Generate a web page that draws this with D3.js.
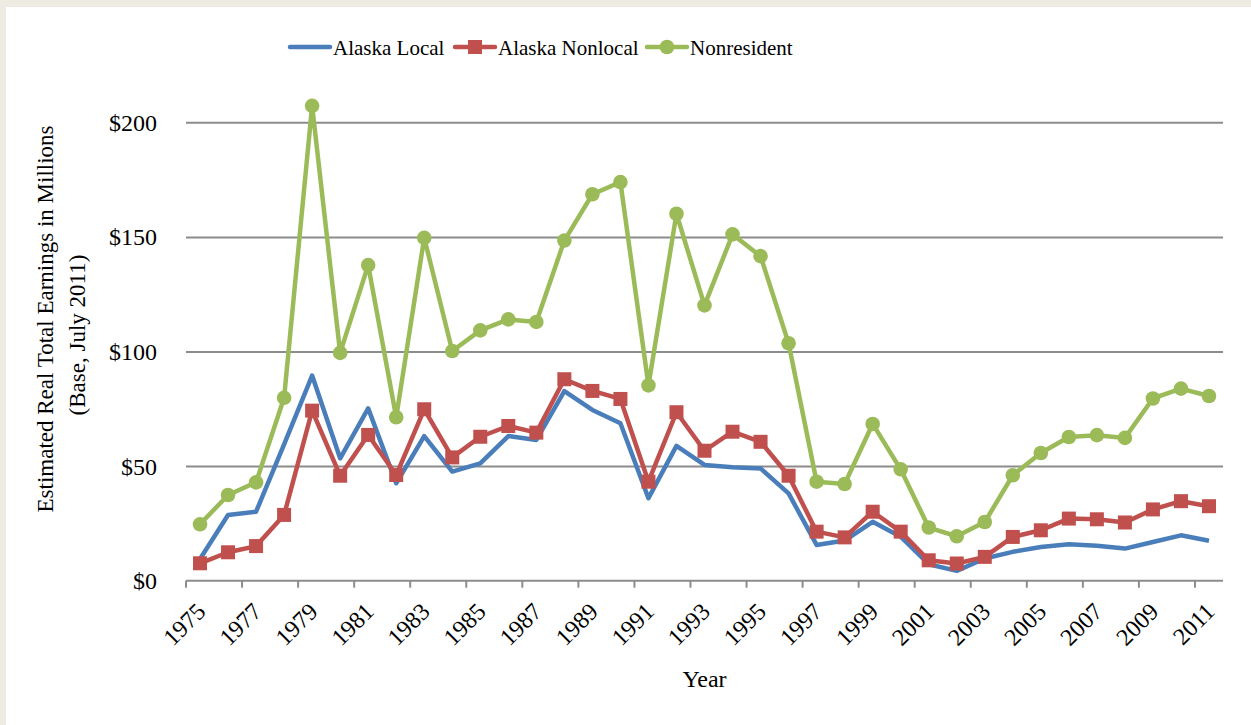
<!DOCTYPE html>
<html>
<head>
<meta charset="utf-8">
<script src="https://cdn.jsdelivr.net/npm/d3@7"></script>
<style>
  body { margin: 0; background: #eeebe2; }
  svg { display: block; font-family: "Liberation Serif", "DejaVu Serif", serif; }
</style>
</head>
<body>
<div id="chart"></div>
<script>
var years = d3.range(1975, 2012);

var alaskaLocal = [9.5, 28.7, 30.1, 59.5, 89.5, 53.4, 75.2, 42.5, 63.1, 47.6, 51.2, 63.1, 61.4, 82.7,
  74.5, 68.7, 36.0, 58.8, 50.5, 49.5, 49.0, 38.1, 15.6, 17.5, 25.7, 19.2, 7.2, 4.3, 9.7, 12.6,
  14.7, 15.9, 15.2, 14.0, 16.9, 19.8, 17.4];

var alaskaNonlocal = [7.6, 12.4, 15.1, 28.7, 74.2, 45.8, 63.6, 46.1, 74.8, 53.8, 62.8, 67.5, 64.6, 87.9,
  82.8, 79.3, 43.2, 73.5, 56.7, 65.0, 60.6, 45.8, 21.4, 18.9, 30.1, 21.4, 8.9, 7.5, 10.4, 19.1,
  22.0, 27.1, 26.8, 25.4, 31.1, 34.7, 32.5];

var nonresident = [24.6, 37.4, 42.9, 79.8, 207.2, 99.4, 137.7, 71.3, 149.6, 100.2, 109.2, 114.0, 112.9, 148.4,
  168.6, 173.9, 85.2, 160.1, 120.1, 151.1, 141.6, 103.6, 43.2, 42.2, 68.4, 48.6, 23.2, 19.4, 25.6, 46.0,
  55.7, 62.7, 63.5, 62.3, 79.5, 83.8, 80.6];

var yTicks = [0, 50, 100, 150, 200];

var series = [
  { name: "Alaska Local", values: alaskaLocal, color: "#4a7ebb", marker: "none" },
  { name: "Alaska Nonlocal", values: alaskaNonlocal, color: "#c0504d", marker: "square" },
  { name: "Nonresident", values: nonresident, color: "#9bbb59", marker: "circle" }
];

var W = 1251, H = 725;
var plotLeft = 186, plotRight = 1223, plotTop = 122.3, plotBottom = 580.7;

var svg = d3.select("#chart").append("svg")
    .attr("width", W)
    .attr("height", H);

// white panel
svg.append("rect")
    .attr("x", 6).attr("y", 7)
    .attr("width", W - 6).attr("height", H - 7)
    .attr("fill", "#ffffff");

var x = d3.scaleBand().domain(years).range([plotLeft, plotRight]).padding(0);
var y = d3.scaleLinear().domain([0, 200]).range([plotBottom, plotTop]);

function cx(d, i) { return x(years[i]) + x.bandwidth() / 2; }

// gridlines + y labels
var yAxis = svg.append("g")
    .attr("transform", "translate(" + plotLeft + ",0)")
    .call(d3.axisLeft(y).tickValues(yTicks).tickSize(-(plotRight - plotLeft))
      .tickFormat(function(d) { return "$" + d; }));
yAxis.select(".domain").remove();
yAxis.selectAll(".tick line")
    .attr("stroke", function(d) { return d === 0 ? "none" : "#8c8c8c"; })
    .attr("stroke-width", 2);
yAxis.selectAll(".tick text")
    .attr("x", -29)
    .attr("dy", "0.33em")
    .attr("fill", "#000")
    .style("font-size", "24px")
    .style("font-family", "Liberation Serif, serif");

// x axis line and ticks at band edges
var xg = svg.append("g");
xg.append("line")
    .attr("x1", plotLeft).attr("x2", plotRight)
    .attr("y1", plotBottom).attr("y2", plotBottom)
    .attr("stroke", "#8c8c8c").attr("stroke-width", 2);

var tickYears = years.filter(function(d) { return (d - 1975) % 2 === 0; });
xg.selectAll("line.tk")
    .data(tickYears)
    .enter().append("line")
    .attr("class", "tk")
    .attr("x1", function(d) { return x(d); })
    .attr("x2", function(d) { return x(d); })
    .attr("y1", plotBottom).attr("y2", plotBottom + 7)
    .attr("stroke", "#8c8c8c").attr("stroke-width", 2);

xg.selectAll("text")
    .data(tickYears)
    .enter().append("text")
    .attr("transform", function(d) {
      return "translate(" + (x(d) + x.bandwidth() / 2 + 7) + "," + 613 + ") rotate(-45)";
    })
    .attr("text-anchor", "end")
    .style("font-size", "24px")
    .text(function(d) { return d; });

// lines
var line = d3.line()
    .x(cx)
    .y(function(d) { return y(d); });

series.forEach(function(s) {
  svg.append("path")
      .datum(s.values)
      .attr("fill", "none")
      .attr("stroke", s.color)
      .attr("stroke-width", 4.5)
      .attr("stroke-linejoin", "round")
      .attr("d", line);

  if (s.marker === "square") {
    svg.selectAll(null)
        .data(s.values)
        .enter().append("rect")
        .attr("x", function(d, i) { return cx(d, i) - 7; })
        .attr("y", function(d) { return y(d) - 7; })
        .attr("width", 14).attr("height", 14)
        .attr("fill", s.color);
  } else if (s.marker === "circle") {
    svg.selectAll(null)
        .data(s.values)
        .enter().append("circle")
        .attr("cx", cx)
        .attr("cy", function(d) { return y(d); })
        .attr("r", 7.3)
        .attr("fill", s.color);
  }
});

// legend
var legendX = [290, 455, 647];
var legend = svg.append("g");
series.forEach(function(s, i) {
  var lx = legendX[i];
  legend.append("line")
      .attr("x1", lx).attr("x2", lx + 40)
      .attr("y1", 47).attr("y2", 47)
      .attr("stroke", s.color).attr("stroke-width", 4.5)
      .attr("stroke-linecap", "round");
  if (s.marker === "square") {
    legend.append("rect")
        .attr("x", lx + 20 - 7).attr("y", 40)
        .attr("width", 14).attr("height", 14)
        .attr("fill", s.color);
  } else if (s.marker === "circle") {
    legend.append("circle")
        .attr("cx", lx + 20).attr("cy", 47).attr("r", 7.3)
        .attr("fill", s.color);
  }
  legend.append("text")
      .attr("x", lx + 43)
      .attr("y", 55)
      .style("font-size", "21px")
      .text(s.name);
});

// axis titles
svg.append("text")
    .attr("transform", "translate(53,319) rotate(-90)")
    .attr("text-anchor", "middle")
    .style("font-size", "23px")
    .text("Estimated Real Total Earnings in Millions");
svg.append("text")
    .attr("transform", "translate(85,335) rotate(-90)")
    .attr("text-anchor", "middle")
    .style("font-size", "23px")
    .text("(Base, July 2011)");

svg.append("text")
    .attr("x", (plotLeft + plotRight) / 2)
    .attr("y", 687)
    .attr("text-anchor", "middle")
    .style("font-size", "24px")
    .text("Year");
</script>
</body>
</html>
